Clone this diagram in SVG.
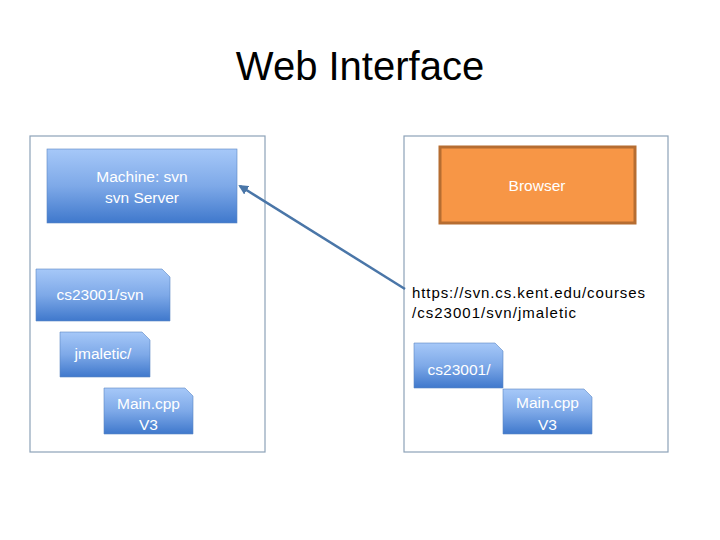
<svg xmlns="http://www.w3.org/2000/svg" width="720" height="540" viewBox="0 0 720 540">
<defs>
<linearGradient id="blue" x1="0" y1="0" x2="0" y2="1">
<stop offset="0" stop-color="#a6c8f8"/>
<stop offset="0.5" stop-color="#7ea9e8"/>
<stop offset="1" stop-color="#3f78cc"/>
</linearGradient>
<marker id="arr" viewBox="0 0 10 10" refX="8" refY="5" markerWidth="4" markerHeight="4" orient="auto-start-reverse" markerUnits="strokeWidth">
<path d="M0,0 L10,5 L0,10 z" fill="#4a76a8"/>
</marker>
<style>
.panel{fill:#ffffff;stroke:#8da2b8;stroke-width:1.2}
.box{fill:url(#blue);stroke:#5a86c4;stroke-width:0.6}
.wt{font-family:"Liberation Sans",Arial,sans-serif;font-size:15.5px;fill:#ffffff;text-anchor:middle}
.bt{font-family:"Liberation Sans",Arial,sans-serif;font-size:15px;fill:#000000}
</style>
</defs>
<rect width="720" height="540" fill="#ffffff"/>
<text x="360" y="80" font-family="Liberation Sans,Arial,sans-serif" font-size="40" text-anchor="middle" fill="#000000">Web Interface</text>
<g id="left-panel"><rect class="panel" x="30" y="136" width="235" height="316"/></g>
<g id="right-panel"><rect class="panel" x="404" y="136" width="264" height="316"/></g>
<g id="machine">
<rect class="box" x="47" y="149" width="190" height="74"/>
<text class="wt" x="142" y="182">Machine: svn</text>
<text class="wt" x="142" y="203">svn Server</text>
</g>
<g id="cs23001svn">
<path class="box" d="M36,269 H162 L170,277 V321 H36 Z"/>
<text class="wt" x="100" y="300">cs23001/svn</text>
</g>
<g id="jmaletic">
<path class="box" d="M60,332 H142 L150,340 V377 H60 Z"/>
<text class="wt" x="103" y="359">jmaletic/</text>
</g>
<g id="main-left">
<path class="box" d="M104,388 H185 L193,396 V434 H104 Z"/>
<text class="wt" x="148.5" y="409">Main.cpp</text>
<text class="wt" x="148.5" y="430">V3</text>
</g>
<g id="browser">
<rect x="440" y="147" width="195" height="76" fill="#f79646" stroke="#b66d31" stroke-width="3"/>
<text class="wt" x="537" y="191">Browser</text>
</g>
<g id="url">
<text class="bt" x="412" y="298" textLength="233" lengthAdjust="spacing">https://svn.cs.kent.edu/courses</text>
<text class="bt" x="412" y="318" textLength="164" lengthAdjust="spacing">/cs23001/svn/jmaletic</text>
</g>
<g id="cs23001">
<path class="box" d="M414,343 H495 L503,351 V388 H414 Z"/>
<text class="wt" x="459" y="375">cs23001/</text>
</g>
<g id="main-right">
<path class="box" d="M503,389 H584 L592,397 V434 H503 Z"/>
<text class="wt" x="547.5" y="408">Main.cpp</text>
<text class="wt" x="547.5" y="430">V3</text>
</g>
<g id="connectors">
<line x1="405" y1="289" x2="240" y2="186" stroke="#4a76a8" stroke-width="2.5" marker-end="url(#arr)"/>
</g>
</svg>
